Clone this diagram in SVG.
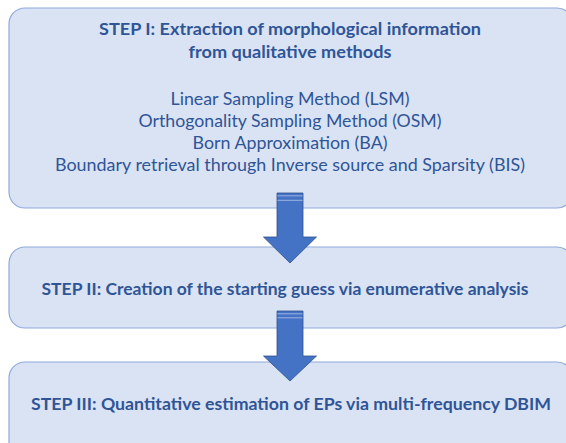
<svg xmlns="http://www.w3.org/2000/svg" width="566" height="443" viewBox="0 0 566 443">
<style>
.box{fill:#DAE3F3;stroke:#8FAADC;stroke-width:1.2}
.t{font-family:Lato,"Open Sans",sans-serif;font-size:17.5px;fill:#2F5597;text-anchor:middle}
.b{font-weight:bold}
.arr{fill:#4472C4;stroke:#2F528F;stroke-width:0.8}
.stripe{fill:#9DB4E0}
</style>
<rect width="566" height="443" fill="#FFFFFF"/>
<g id="step1">
<rect class="box" x="9" y="8" width="564" height="200" rx="16"/>
<text class="t b" x="290" y="35" textLength="382" lengthAdjust="spacingAndGlyphs">STEP I: Extraction of morphological  information</text>
<text class="t b" x="290" y="58" textLength="203" lengthAdjust="spacingAndGlyphs">from qualitative methods</text>
<text class="t" x="290" y="105" textLength="239" lengthAdjust="spacingAndGlyphs">Linear Sampling Method (LSM)</text>
<text class="t" x="290" y="127" textLength="303" lengthAdjust="spacingAndGlyphs">Orthogonality Sampling Method (OSM)</text>
<text class="t" x="290" y="149" textLength="195" lengthAdjust="spacingAndGlyphs">Born Approximation (BA)</text>
<text class="t" x="290" y="171" textLength="470" lengthAdjust="spacingAndGlyphs">Boundary retrieval through Inverse source and Sparsity (BIS)</text>
</g>
<g id="step2">
<rect class="box" x="9" y="247" width="564" height="81" rx="16"/>
<text class="t b" x="285" y="295" textLength="487" lengthAdjust="spacingAndGlyphs">STEP II: Creation of the starting guess via enumerative analysis</text>
</g>
<g id="step3">
<rect class="box" x="9" y="362" width="564" height="100" rx="16"/>
<text class="t b" x="291" y="410" textLength="520" lengthAdjust="spacingAndGlyphs">STEP III: Quantitative estimation of EPs via multi-frequency DBIM</text>
</g>
<g id="connectors">
<polygon class="arr" points="277,193 303,193 303,237 316.5,237 290,263 263.5,237 277,237"/>
<rect class="stripe" x="277.4" y="195.3" width="25.2" height="1"/>
<rect class="stripe" x="277.4" y="199.8" width="25.2" height="1"/>
<polygon class="arr" points="277,311 303,311 303,356 316.5,356 290,381 263.5,356 277,356"/>
<rect class="stripe" x="277.4" y="313.3" width="25.2" height="1"/>
<rect class="stripe" x="277.4" y="317.3" width="25.2" height="1"/>
</g>
</svg>
